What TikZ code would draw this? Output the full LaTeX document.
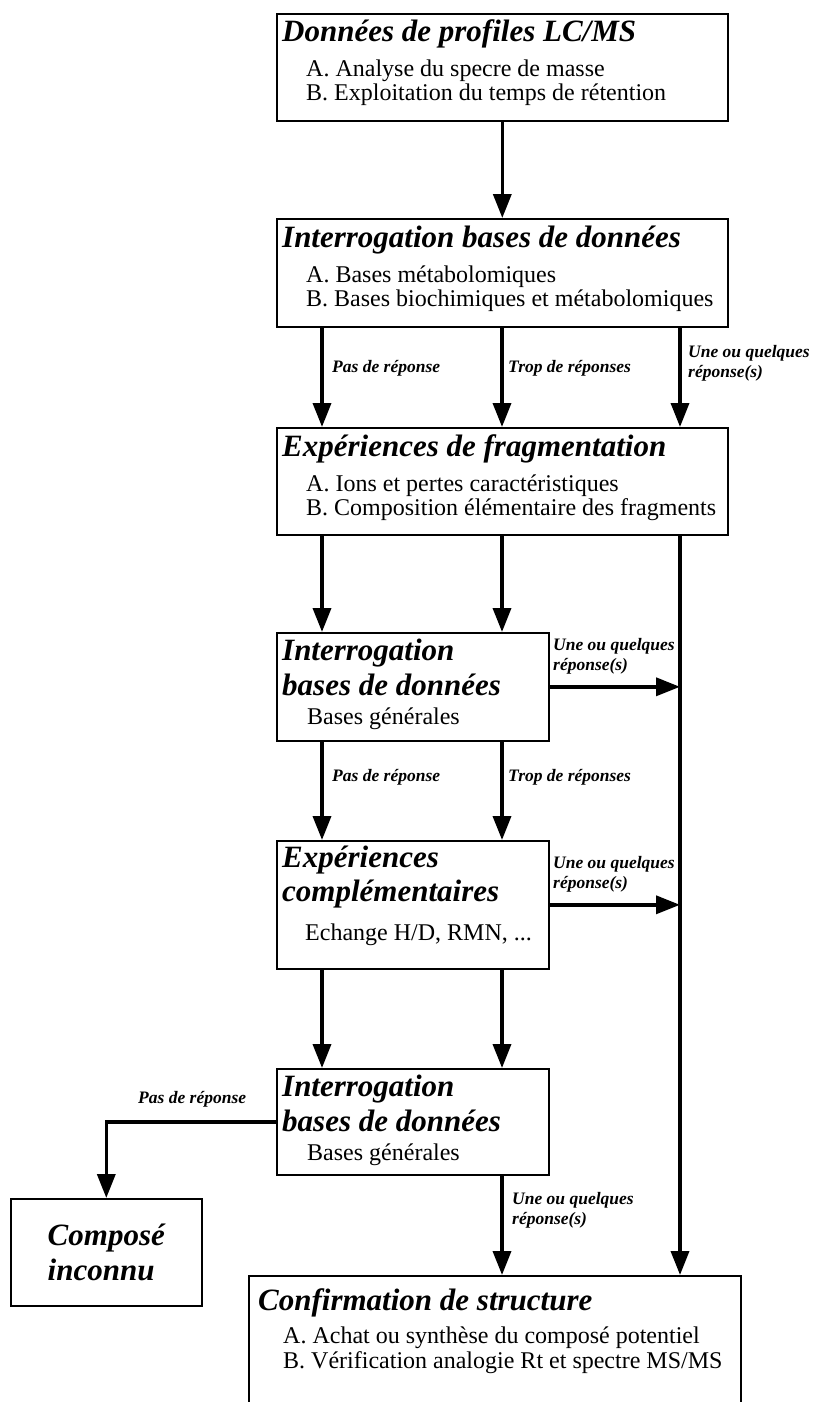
\documentclass[tikz,border=0pt]{standalone}
\usepackage{fontspec}
\setmainfont{Liberation Serif}
\usetikzlibrary{arrows.meta}

\tikzset{
  box/.style={draw, line width=1.6pt, rectangle, anchor=north west, inner sep=0pt},
  ttl/.style={anchor=base west, inner sep=0pt, font=\bfseries\itshape\fontsize{31}{35}\selectfont},
  item/.style={anchor=base west, inner sep=0pt, font=\fontsize{24}{27}\selectfont},
  lbl/.style={anchor=north west, align=left, inner sep=0pt, font=\bfseries\itshape\fontsize{17.5}{20}\selectfont},
  flow/.style={line width=3.5pt, -{Triangle[width=18pt,length=24pt]}},
}

\begin{document}
\begin{tikzpicture}[x=1pt,y=-1pt]
\useasboundingbox (0,0) rectangle (812,1402);
% columns of the arrows
\coordinate (colL) at (322,0);
\coordinate (colM) at (502,0);
\coordinate (colR) at (680,0);

% boxes
\node[box, minimum width=451pt, minimum height=107pt] (lcms) at (276,13) {};
\node[ttl] (lcmsT) at (282,42) {Données de profiles LC/MS};
\node[item] (lcmsA) at (306,77) {A. Analyse du specre de masse};
\node[item] (lcmsB) at (306,101) {B. Exploitation du temps de rétention};

\node[box, minimum width=451pt, minimum height=108pt] (base1) at (276,218) {};
\node[ttl] (base1T) at (282,247) {Interrogation bases de données};
\node[item] (base1A) at (306,282) {A. Bases métabolomiques};
\node[item] (base1B) at (306,306) {B. Bases biochimiques et métabolomiques};

\node[box, minimum width=451pt, minimum height=107pt] (frag) at (276,427) {};
\node[ttl] (fragT) at (282,456) {Expériences de fragmentation};
\node[item] (fragA) at (306,491) {A. Ions et pertes caractéristiques};
\node[item] (fragB) at (306,515) {B. Composition élémentaire des fragments};

\node[box, minimum width=272pt, minimum height=108pt] (base2) at (276,632) {};
\node[ttl] (base2T) at (282,660) {Interrogation};
\node[ttl] (base2U) at (282,695) {bases de données};
\node[item] (base2A) at (307,724) {Bases générales};

\node[box, minimum width=272pt, minimum height=128pt] (compl) at (276,840) {};
\node[ttl] (complT) at (282,867) {Expériences};
\node[ttl] (complU) at (282,901) {complémentaires};
\node[item] (complA) at (305,940) {Echange H/D, RMN, ...};

\node[box, minimum width=272pt, minimum height=106pt] (base3) at (276,1068) {};
\node[ttl] (base3T) at (282,1096) {Interrogation};
\node[ttl] (base3U) at (282,1131) {bases de données};
\node[item] (base3A) at (307,1160) {Bases générales};

\node[box, minimum width=191pt, minimum height=107pt] (inconnu) at (10,1198) {};
\node[ttl, anchor=center, align=left] (inconnuT) at (inconnu.center) {Composé\\inconnu};

\node[box, minimum width=492pt, minimum height=170pt] (confirm) at (248,1275) {};
\node[ttl] (confirmT) at (258,1310) {Confirmation de structure};
\node[item] (confirmA) at (283,1343) {A. Achat ou synthèse du composé potentiel};
\node[item] (confirmB) at (283,1368) {B. Vérification analogie Rt et spectre MS/MS};

% connectors
\draw[flow] (lcms.south) -- (base1.north);
\foreach \c in {colL,colM,colR}
  \draw[flow] (\c |- base1.south) -- (\c |- frag.north);
\foreach \c in {colL,colM}
  \draw[flow] (\c |- frag.south) -- (\c |- base2.north);
\draw[flow] (colR |- frag.south) -- (colR |- confirm.north);
\draw[flow] (base2.east) -- (colR |- base2.east);
\foreach \c in {colL,colM}
  \draw[flow] (\c |- base2.south) -- (\c |- compl.north);
\draw[flow] (compl.east) -- (colR |- compl.east);
\foreach \c in {colL,colM}
  \draw[flow] (\c |- compl.south) -- (\c |- base3.north);
\draw[flow] (base3.west) -| (inconnu.north);
\draw[flow] (colM |- base3.south) -- (colM |- confirm.north);

% labels
\node[lbl] (noA) at (332,360) {Pas de réponse};
\node[lbl] (manyA) at (508,360) {Trop de réponses};
\node[lbl] (someA) at (688,345) {Une ou quelques\\réponse(s)};
\node[lbl] (someB) at (553,638) {Une ou quelques\\réponse(s)};
\node[lbl] (noC) at (332,769) {Pas de réponse};
\node[lbl] (manyC) at (508,769) {Trop de réponses};
\node[lbl] (someD) at (553,856) {Une ou quelques\\réponse(s)};
\node[lbl] (noE) at (138,1091) {Pas de réponse};
\node[lbl] (someE) at (512,1192) {Une ou quelques\\réponse(s)};
\end{tikzpicture}
\end{document}
